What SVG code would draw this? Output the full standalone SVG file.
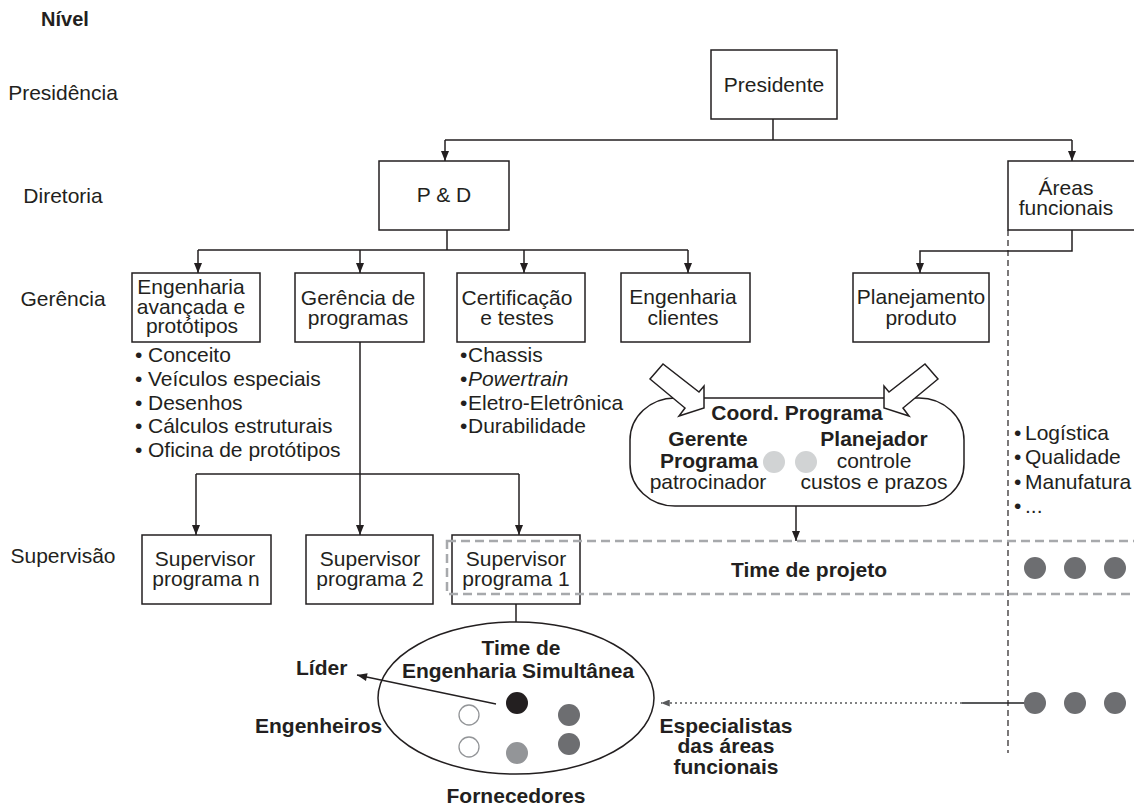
<svg xmlns="http://www.w3.org/2000/svg" width="1134" height="807" viewBox="0 0 1134 807">
<style>
.t{font-family:"Liberation Sans",Arial,sans-serif;font-size:21px;fill:#231f20}
.b{font-weight:bold}
.m{text-anchor:middle}
.box{fill:#fff;stroke:#231f20;stroke-width:1.5}
.c{stroke:#231f20;stroke-width:1.5;fill:none}
.ca{stroke:#231f20;stroke-width:1.5;fill:none;marker-end:url(#ah)}
.dg{fill:#6d6e71}
</style>
<defs>
<marker id="ah" viewBox="0 0 10 8" refX="10" refY="4" markerWidth="11" markerHeight="8" orient="auto" markerUnits="userSpaceOnUse"><path d="M0,0 L10,4 L0,8 z" fill="#231f20"/></marker>
<marker id="ahg" viewBox="0 0 10 8" refX="10" refY="4" markerWidth="10" markerHeight="7" orient="auto" markerUnits="userSpaceOnUse"><path d="M0,0 L10,4 L0,8 z" fill="#58595b"/></marker>
</defs>
<rect width="1134" height="807" fill="#fff"/>

<g id="levels">
<text class="t b m" x="65" y="26" style="font-size:20px">Nível</text>
<text class="t m" x="63" y="100">Presidência</text>
<text class="t m" x="63" y="203">Diretoria</text>
<text class="t m" x="63" y="306">Gerência</text>
<text class="t m" x="63" y="563">Supervisão</text>
</g>

<g id="connectors">
<path class="c" d="M773,119 V140 M445,140 H1072"/>
<path class="ca" d="M445,140 V161"/>
<path class="ca" d="M1072,140 V161"/>
<path class="c" d="M447,230 V250 M198,250 H688"/>
<path class="ca" d="M198,250 V273"/>
<path class="ca" d="M360,250 V273"/>
<path class="ca" d="M524,250 V273"/>
<path class="ca" d="M688,250 V273"/>
<path class="ca" d="M1072,230 V251 H920 V273"/>
<path class="ca" d="M360,342 V535"/>
<path class="c" d="M196,474 H519"/>
<path class="ca" d="M196,474 V535"/>
<path class="ca" d="M519,474 V535"/>
<path class="ca" d="M796,506 V541"/>
<path class="c" d="M516,604 V622"/>
<path class="ca" d="M496,704 L357,675" style="stroke-width:1.3"/>
<path d="M1035,703 H962" stroke="#58595b" stroke-width="1.8" fill="none"/>
<path d="M962,703 H661" stroke="#58595b" stroke-width="1.5" stroke-dasharray="2 3" fill="none" marker-end="url(#ahg)"/>
<line x1="1008" y1="230" x2="1008" y2="753" stroke="#231f20" stroke-width="1.2" stroke-dasharray="6 4"/>
</g>

<g id="presidente">
<rect class="box" x="711" y="50" width="126" height="69"/>
<text class="t m" x="774" y="92">Presidente</text>
</g>

<g id="pd">
<rect class="box" x="379" y="161" width="130" height="69"/>
<text class="t m" x="444" y="202">P &amp; D</text>
</g>

<g id="areas-funcionais">
<rect class="box" x="1008" y="161" width="140" height="69"/>
<text class="t m" x="1066" y="195">Áreas</text>
<text class="t m" x="1066" y="215">funcionais</text>
</g>

<g id="eng-avancada">
<rect class="box" x="132" y="273" width="128" height="69"/>
<text class="t m" x="191" y="294">Engenharia</text>
<text class="t m" x="191" y="314">avançada e</text>
<text class="t m" x="192" y="333">protótipos</text>
<text class="t"><tspan x="135" y="362">•</tspan><tspan x="148">Conceito</tspan></text>
<text class="t"><tspan x="135" y="386">•</tspan><tspan x="148">Veículos especiais</tspan></text>
<text class="t"><tspan x="135" y="410">•</tspan><tspan x="148">Desenhos</tspan></text>
<text class="t"><tspan x="135" y="433">•</tspan><tspan x="148">Cálculos estruturais</tspan></text>
<text class="t"><tspan x="135" y="457">•</tspan><tspan x="148">Oficina de protótipos</tspan></text>
</g>

<g id="gerencia-programas">
<rect class="box" x="295" y="273" width="129" height="69"/>
<text class="t m" x="358" y="305">Gerência de</text>
<text class="t m" x="358" y="325">programas</text>
</g>

<g id="certificacao">
<rect class="box" x="457" y="273" width="128" height="69"/>
<text class="t m" x="517" y="305">Certificação</text>
<text class="t m" x="517" y="325">e testes</text>
<text class="t"><tspan x="460" y="362">•</tspan><tspan x="468">Chassis</tspan></text>
<text class="t"><tspan x="460" y="386">•</tspan><tspan x="468" font-style="italic">Powertrain</tspan></text>
<text class="t"><tspan x="460" y="410">•</tspan><tspan x="468">Eletro-Eletrônica</tspan></text>
<text class="t"><tspan x="460" y="433">•</tspan><tspan x="468">Durabilidade</tspan></text>
</g>

<g id="eng-clientes">
<rect class="box" x="621" y="273" width="129" height="69"/>
<text class="t m" x="683" y="304">Engenharia</text>
<text class="t m" x="683" y="325">clientes</text>
</g>

<g id="planejamento">
<rect class="box" x="853" y="273" width="136" height="69"/>
<text class="t m" x="921" y="304">Planejamento</text>
<text class="t m" x="921" y="325">produto</text>
</g>

<g id="funcoes-lista">
<text class="t"><tspan x="1014" y="440">•</tspan><tspan x="1025">Logística</tspan></text>
<text class="t"><tspan x="1014" y="464">•</tspan><tspan x="1025">Qualidade</tspan></text>
<text class="t"><tspan x="1014" y="489">•</tspan><tspan x="1025">Manufatura</tspan></text>
<text class="t"><tspan x="1014" y="513">•</tspan><tspan x="1025">...</tspan></text>
</g>

<g id="coord-programa">
<rect class="box" x="630" y="398" width="334" height="108" rx="45" ry="42"/>
<polygon class="box" points="650,379 663,364 699,392 704,386 704,408 679,416 685,408"/>
<polygon class="box" points="938,379 925,364 889,392 884,386 884,408 909,416 903,408"/>
<text class="t b m" x="797" y="420">Coord. Programa</text>
<text class="t b m" x="708" y="446">Gerente</text>
<text class="t b m" x="709" y="468">Programa</text>
<text class="t m" x="708" y="489">patrocinador</text>
<text class="t b m" x="874" y="446">Planejador</text>
<text class="t m" x="874" y="468">controle</text>
<text class="t m" x="874" y="489">custos e prazos</text>
<circle cx="774" cy="462" r="11" fill="#d1d3d4"/>
<circle cx="806" cy="462" r="11" fill="#d1d3d4"/>
</g>

<g id="sup-n">
<rect class="box" x="142" y="535" width="129" height="69"/>
<text class="t m" x="205" y="566">Supervisor</text>
<text class="t m" x="206" y="586">programa n</text>
</g>

<g id="sup-2">
<rect class="box" x="306" y="535" width="127" height="69"/>
<text class="t m" x="370" y="566">Supervisor</text>
<text class="t m" x="370" y="586">programa 2</text>
</g>

<g id="sup-1">
<rect class="box" x="452" y="535" width="128" height="69"/>
<text class="t m" x="516" y="566">Supervisor</text>
<text class="t m" x="516" y="586">programa 1</text>
</g>

<g id="time-projeto">
<rect x="447" y="541" width="700" height="53" fill="none" stroke="#a7a9ac" stroke-width="2.5" stroke-dasharray="9 5"/>
<text class="t b m" x="809" y="577">Time de projeto</text>
<circle class="dg" cx="1035" cy="568" r="11"/>
<circle class="dg" cx="1075" cy="568" r="11"/>
<circle class="dg" cx="1115" cy="568" r="11"/>
</g>

<g id="especialistas">
<circle class="dg" cx="1035" cy="703" r="11"/>
<circle class="dg" cx="1075" cy="703" r="11"/>
<circle class="dg" cx="1115" cy="703" r="11"/>
<text class="t b m" x="726" y="733">Especialistas</text>
<text class="t b m" x="726" y="753">das áreas</text>
<text class="t b m" x="726" y="774">funcionais</text>
</g>

<g id="time-es">
<ellipse cx="516" cy="698" rx="138" ry="76" fill="none" stroke="#231f20" stroke-width="1.5"/>
<text class="t b m" x="521" y="655">Time de</text>
<text class="t b m" x="518" y="678">Engenharia Simultânea</text>
<circle cx="517" cy="703" r="11" fill="#231f20"/>
<circle cx="469" cy="715" r="10" fill="#fff" stroke="#939598" stroke-width="1.3"/>
<circle cx="469" cy="747" r="10" fill="#fff" stroke="#939598" stroke-width="1.3"/>
<circle cx="517" cy="753" r="11" fill="#939598"/>
<circle class="dg" cx="569" cy="715" r="11"/>
<circle class="dg" cx="569" cy="744" r="11"/>
<text class="t b" x="296" y="675">Líder</text>
<text class="t b" x="255" y="733">Engenheiros</text>
<text class="t b m" x="516" y="803">Fornecedores</text>
</g>
</svg>
